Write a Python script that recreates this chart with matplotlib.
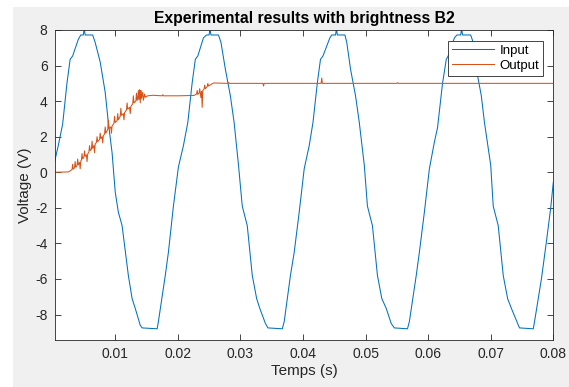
import matplotlib
matplotlib.use('Agg')
import matplotlib.pyplot as plt
from matplotlib.patches import Rectangle

plt.rcParams['font.family'] = ['Liberation Sans', 'DejaVu Sans']

# Input signal (time in s, voltage in V)
input_t = [
    0.0003, 0.0009, 0.0016, 0.0023, 0.0028, 0.0032, 0.0041, 0.0045, 0.0049, 0.0050,
    0.0051, 0.0052, 0.0064, 0.0068, 0.0076, 0.0084, 0.0089, 0.0095, 0.0100, 0.0105,
    0.0111, 0.0121, 0.0127, 0.0132, 0.0140, 0.0143, 0.0167, 0.0169, 0.0180, 0.0185,
    0.0193, 0.0201,
    0.0209, 0.0216, 0.0223, 0.0228, 0.0232, 0.0241, 0.0246, 0.0250, 0.0251, 0.0252,
    0.0253, 0.0265, 0.0269, 0.0276, 0.0284, 0.0290, 0.0297, 0.0303, 0.0311, 0.0319,
    0.0326, 0.0331, 0.0340, 0.0344, 0.0367, 0.0370, 0.0380, 0.0386, 0.0394, 0.0402,
    0.0410, 0.0416, 0.0423, 0.0428, 0.0432, 0.0443, 0.0446, 0.0452, 0.0453, 0.0454,
    0.0455, 0.0467, 0.0470, 0.0476, 0.0484, 0.0490, 0.0498, 0.0503, 0.0511, 0.0519,
    0.0526, 0.0533, 0.0541, 0.0546, 0.0567, 0.0570, 0.0581, 0.0586, 0.0594, 0.0602,
    0.0610, 0.0615, 0.0623, 0.0629, 0.0632, 0.0642, 0.0646, 0.0652, 0.0653, 0.0654,
    0.0655, 0.0668, 0.0672, 0.0677, 0.0685, 0.0690, 0.0700, 0.0704, 0.0712, 0.0720,
    0.0727, 0.0733, 0.0743, 0.0746, 0.0768, 0.0770, 0.0781, 0.0789, 0.0796, 0.0800,
]
input_v = [
    0.56, 1.5, 2.7, 5.04, 6.35, 6.54, 7.47, 7.72, 7.72, 7.95,
    7.95, 7.72, 7.72, 7.3, 6.2, 4.5, 2.8, 1.1, -1.1, -2.24,
    -3.0, -5.8, -7.1, -7.65, -8.6, -8.75, -8.8, -8.4, -5.8, -4.5,
    -1.9, 0.3,
    1.5, 2.8, 5.04, 6.35, 6.54, 7.56, 7.72, 7.72, 7.95, 7.95,
    7.72, 7.72, 7.3, 5.8, 4.3, 2.8, 0.4, -1.9, -3.0, -5.8,
    -7.1, -7.65, -8.5, -8.75, -8.8, -8.4, -5.8, -4.5, -2.24, 0.2,
    1.5, 2.8, 5.04, 6.35, 6.54, 7.56, 7.72, 7.72, 7.95, 7.95,
    7.72, 7.72, 7.3, 5.8, 4.3, 2.8, 0.4, -1.9, -3.0, -5.8,
    -7.1, -7.65, -8.5, -8.75, -8.8, -8.4, -5.8, -4.5, -2.24, 0.2,
    1.7, 2.5, 5.0, 6.35, 6.54, 7.56, 7.72, 7.72, 7.95, 7.95,
    7.72, 7.72, 7.3, 5.8, 4.3, 2.8, 0.4, -1.9, -3.0, -5.8,
    -7.1, -7.65, -8.5, -8.75, -8.8, -8.4, -6.0, -3.9, -1.96, -0.56,
]

# Output signal in ms (ramp with switching spikes, then settles at 5 V)
output_ms = [
    0.3, 2.5, 2.9, 3.1, 3.2, 3.3, 3.5, 3.6, 3.7, 3.9,
    4.0, 4.1, 4.3, 4.4, 4.5, 4.6, 4.7, 4.8, 5.0, 5.1,
    5.2, 5.4, 5.5, 5.6, 5.8, 5.9, 6.0, 6.2, 6.3, 6.4,
    6.6, 6.7, 6.8, 7.0, 7.1, 7.2, 7.5, 7.6, 7.7, 7.9,
    8.0, 8.1, 8.3, 8.4, 8.5, 8.8, 8.9, 9.0, 9.3, 9.4,
    9.5, 9.8, 9.9, 10.0, 10.3, 10.4, 10.5, 10.8, 10.9, 11.0,
    11.3, 11.4, 11.5, 11.8, 11.9, 12.0, 12.3, 12.4, 12.5, 12.8,
    12.9, 13.0, 13.3, 13.4, 13.5, 13.6, 13.7, 13.8, 13.9, 14.0,
    14.1, 14.2, 14.4, 14.5, 14.7, 14.8, 15.2, 16.0, 17.5, 17.6,
    17.7, 20.0, 22.6, 23.0, 23.1, 23.2, 23.4, 23.5, 23.6, 23.7,
    23.8, 23.9, 24.0, 24.2, 24.3, 24.4, 24.7, 24.8, 24.9, 25.7,
    28.0, 28.1, 28.2, 33.6, 33.7, 33.8, 42.9, 43.0, 43.1, 55.0,
    55.1, 55.2, 80.0,
]
output_v = [
    0.0, 0.02, 0.1, 0.15, 0.45, 0.18, 0.25, 0.6, 0.28, 0.38,
    0.75, 0.42, 0.55, 0.2, 0.62, 0.7, 1.05, 0.75, 0.85, 1.2,
    0.9, 0.98, 0.6, 1.02, 1.15, 1.5, 1.22, 1.3, 1.75, 1.35,
    1.5, 1.1, 1.58, 1.68, 2.0, 1.72, 1.85, 2.2, 1.9, 2.0,
    1.65, 2.05, 2.15, 2.55, 2.2, 2.4, 2.95, 2.45, 2.55, 2.2,
    2.6, 2.75, 3.15, 2.8, 2.9, 3.3, 2.95, 3.15, 3.6, 3.2,
    3.3, 2.95, 3.35, 3.5, 3.9, 3.55, 3.65, 3.3, 3.7, 3.85,
    4.3, 3.9, 4.0, 4.45, 4.05, 4.1, 4.6, 4.1, 4.65, 3.9,
    4.6, 4.15, 4.5, 4.05, 4.4, 4.22, 4.3, 4.33, 4.3, 4.36,
    4.3, 4.3, 4.32, 4.4, 4.6, 4.38, 4.45, 4.7, 4.45, 4.2,
    4.55, 3.65, 4.6, 4.68, 4.9, 4.7, 4.82, 5.0, 4.85, 5.02,
    5.0, 5.05, 5.0, 5.0, 4.85, 5.0, 5.0, 5.3, 5.0, 5.0,
    5.04, 5.0, 5.0,
]
output_t = [m / 1000 for m in output_ms]

x_ticks = [0.01, 0.02, 0.03, 0.04, 0.05, 0.06, 0.07, 0.08]
y_ticks = [-8, -6, -4, -2, 0, 2, 4, 6, 8]

W, H = 569, 387
fig = plt.figure(figsize=(W / 100, H / 100), dpi=100, facecolor='white')
# grey MATLAB figure background, screenshot leaves a thin white strip left/top
fig.patches.append(Rectangle((13 / W, 0), 1 - 13 / W, 1 - 7 / H, transform=fig.transFigure,
                             facecolor='#F0F0F0', edgecolor='none', zorder=-10))

ax = fig.add_axes([54.5 / W, 1 - 340 / H, (553.3 - 54.5) / W, (340 - 30) / H])
ax.plot(input_t, input_v, color='#0072BD', lw=0.75, label='Input')
ax.plot(output_t, output_v, color='#D95319', lw=0.75, label='Output')

ax.set_xlim(0.0003, 0.08)
ax.set_ylim(-9.43, 8)
ax.set_xticks(x_ticks)
ax.set_xticklabels([f'{x:g}' for x in x_ticks])
ax.set_yticks(y_ticks)
ax.set_yticklabels([f'{y:g}' for y in y_ticks])

dark = '#262626'
ax.tick_params(direction='in', top=True, right=True, length=4, width=0.6,
               colors=dark, labelsize=10, pad=5)
for s in ax.spines.values():
    s.set_color(dark)
    s.set_linewidth(0.6)

ax.set_title('Experimental results with brightness B2', fontsize=11.3,
             fontweight='bold', color='black', pad=5)
ax.set_xlabel('Temps (s)', fontsize=11, color=dark, labelpad=2)
ax.set_ylabel('Voltage (V)', fontsize=11, color=dark, labelpad=2)

leg = ax.legend(loc='upper right', bbox_to_anchor=(0.98, 0.965), fontsize=9.5,
                frameon=True, fancybox=False, edgecolor=dark, framealpha=1,
                handlelength=3.2, handletextpad=0.4, borderpad=0.3,
                labelspacing=0.2, borderaxespad=0)
leg.get_frame().set_linewidth(0.6)

fig.savefig('out.png', dpi=100, facecolor=fig.get_facecolor())
